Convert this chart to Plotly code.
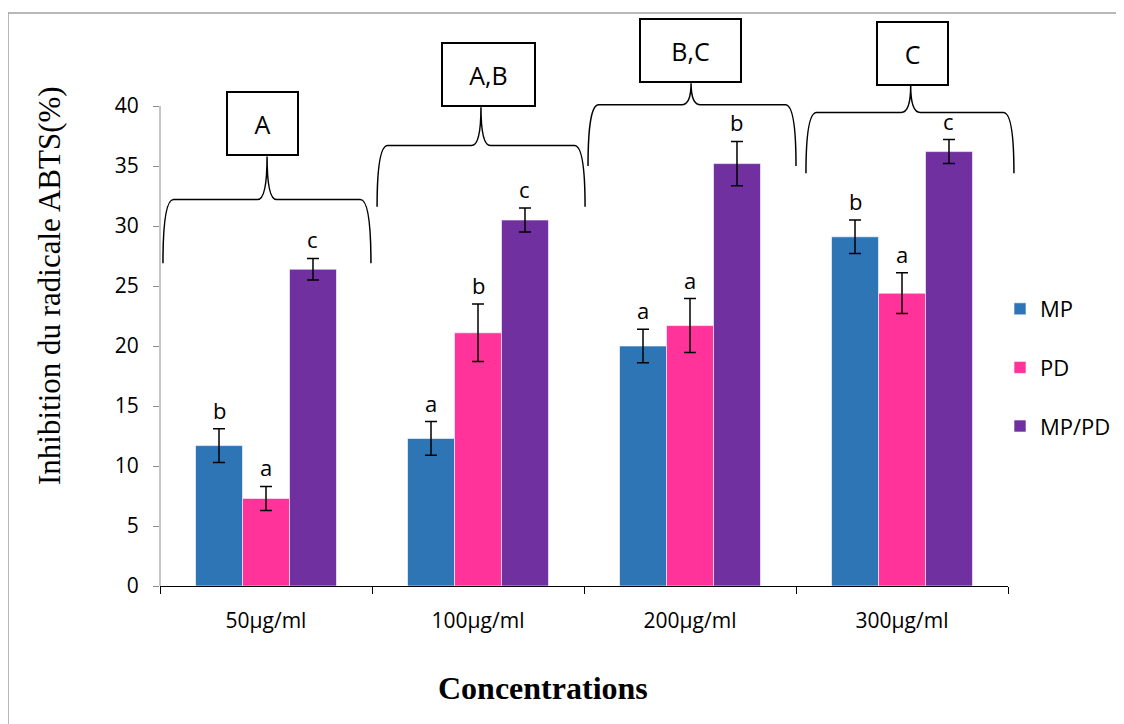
import plotly.graph_objects as go

# ---------------- data ----------------
categories = ["50µg/ml", "100µg/ml", "200µg/ml", "300µg/ml"]
series_names = ["MP", "PD", "MP/PD"]
mp_values = [11.7, 12.3, 20.0, 29.1]
pd_values = [7.3, 21.1, 21.7, 24.4]
mppd_values = [26.4, 30.5, 35.2, 36.2]
mp_err = [1.4, 1.4, 1.4, 1.4]
pd_err = [1.0, 2.4, 2.25, 1.7]
mppd_err = [0.9, 1.0, 1.85, 1.0]
mp_letters = ["b", "a", "a", "b"]
pd_letters = ["a", "b", "a", "a"]
mppd_letters = ["c", "c", "b", "c"]
group_letters = ["A", "A,B", "B,C", "C"]
colors = ["#2E75B6", "#FF3399", "#7030A0"]

# brace geometry (data units): left/right ends, end height, bar height, cusp height
brace_left = [-0.486, 0.524, 1.519, 2.547]
brace_right = [0.495, 1.505, 2.500, 3.528]
brace_mid = [0.005, 1.014, 2.005, 3.041]
brace_end_y = [26.9, 31.6, 35.0, 34.4]
brace_bar_y = [32.2, 36.7, 40.1, 39.45]
brace_cusp_y = [35.8, 39.9, 41.9, 41.7]
box_center = [-0.016, 1.049, 2.002, 3.05]
box_widths = [73, 95, 103, 73]

XR = [-0.5, 3.5]
YR = [0, 47.5]
BARGAP = 0.335

values = [mp_values, pd_values, mppd_values]
errs = [mp_err, pd_err, mppd_err]
letters = [mp_letters, pd_letters, mppd_letters]

x_idx = list(range(len(categories)))

fig = go.Figure()
for i, name in enumerate(series_names):
    fig.add_trace(go.Bar(
        x=x_idx, y=values[i], name=name,
        marker=dict(color=colors[i], line=dict(color="rgba(255,255,255,0.6)", width=1)),
        error_y=dict(type="data", array=errs[i], visible=True,
                     color="black", thickness=1.5, width=6),
        legendgroup=name,
        offsetgroup=str(i),
    ))

bw = (1 - BARGAP) / 3
annotations = []
for i in range(3):
    off = (i - 1) * bw
    for j in x_idx:
        annotations.append(dict(
            x=j + off, y=values[i][j] + errs[i][j], xref="x", yref="y",
            text=letters[i][j], showarrow=False, yanchor="bottom", yshift=2,
            font=dict(family="Open Sans", size=22, color="black")))


def px(x):
    return (x - XR[0]) / (XR[1] - XR[0])


def py(y):
    return (y - YR[0]) / (YR[1] - YR[0])


shapes = []
dx = 0.05
dc = 0.045
for k in x_idx:
    L, R, C = brace_left[k], brace_right[k], brace_mid[k]
    yE, yH, yC = brace_end_y[k], brace_bar_y[k], brace_cusp_y[k]
    pts = [
        ("M", [(L, yE)]),
        ("Q", [(L, yH), (L + dx, yH)]),
        ("L", [(C - dc, yH)]),
        ("Q", [(C, yH), (C, yC)]),
        ("Q", [(C, yH), (C + dc, yH)]),
        ("L", [(R - dx, yH)]),
        ("Q", [(R, yH), (R, yE)]),
    ]
    path = ""
    for cmd, ps in pts:
        path += cmd + " " + " ".join(f"{px(a):.5f},{py(b):.5f}" for a, b in ps) + " "
    shapes.append(dict(type="path", path=path.strip(), xref="paper", yref="paper",
                       line=dict(color="black", width=1.5)))
    annotations.append(dict(
        x=box_center[k], y=yC, xref="x", yref="y", text=group_letters[k], showarrow=False,
        xanchor="center", yanchor="bottom", width=box_widths[k] - 4, height=61, borderpad=0,
        bordercolor="black", borderwidth=2, bgcolor="white",
        font=dict(family="Open Sans", size=25, color="black")))

# y axis line from 0 to 40
shapes.append(dict(type="line", xref="paper", yref="y", x0=0, x1=0, y0=0, y1=40,
                   line=dict(color="#8c8c8c", width=1)))

# page offset of the figure inside the browser (body margin)
OFF = 8
W, H = 1124 - OFF, 724 - OFF
ml, mr, mt, mb = 160 - OFF, 116, 16 - OFF, 138
pw, ph = W - ml - mr, H - mt - mb


def fx(page_x):
    return (page_x - OFF - ml) / pw


def fy(page_y):
    return (H - mb - (page_y - OFF)) / ph


# outer border (left and top)
bx, by = fx(8), fy(13)
shapes.append(dict(type="line", xref="paper", yref="paper", x0=bx, x1=bx, y0=by,
                   y1=fy(740), line=dict(color="#a0a0a0", width=1.5)))
shapes.append(dict(type="line", xref="paper", yref="paper", x0=bx, x1=fx(1140),
                   y0=by, y1=by, line=dict(color="#a0a0a0", width=1.5)))

annotations.append(dict(
    x=fx(49), y=fy(286), xref="paper", yref="paper", xanchor="center", yanchor="middle",
    text="Inhibition du radicale ABTS(%)", textangle=-90, showarrow=False,
    font=dict(family="Liberation Serif", size=31, color="black")))
annotations.append(dict(
    x=fx(543), y=fy(688), xref="paper", yref="paper", xanchor="center", yanchor="middle",
    text="<b>Concentrations</b>", showarrow=False,
    font=dict(family="Liberation Serif", size=32, color="black")))

fig.update_layout(
    width=W, height=H,
    margin=dict(l=ml, r=mr, t=mt, b=mb),
    paper_bgcolor="white", plot_bgcolor="white",
    barmode="group", bargap=BARGAP, bargroupgap=0,
    showlegend=True,
    legend=dict(x=fx(1000), y=fy(288), xanchor="left", yanchor="top",
                traceorder="grouped", tracegroupgap=27,
                font=dict(family="Open Sans", size=22, color="black"),
                bgcolor="rgba(0,0,0,0)"),
    xaxis=dict(range=XR, tickvals=x_idx, ticktext=categories, ticks="",
               showline=True, linecolor="black", linewidth=1, showgrid=False,
               zeroline=False, ticklabelstandoff=16,
               tickfont=dict(family="Open Sans", size=21, color="black"),
               minor=dict(tickvals=[-0.5, 0.5, 1.5, 2.5, 3.5], ticks="outside",
                          ticklen=7, tickcolor="black", tickwidth=1, showgrid=False)),
    yaxis=dict(range=YR, tickvals=[0, 5, 10, 15, 20, 25, 30, 35, 40],
               ticks="outside", ticklen=6, tickcolor="#8c8c8c", showline=False,
               showgrid=False, zeroline=False, ticklabelstandoff=10,
               tickfont=dict(family="Open Sans", size=21, color="black")),
    shapes=shapes,
    annotations=annotations,
)

fig.write_html("out.html")
